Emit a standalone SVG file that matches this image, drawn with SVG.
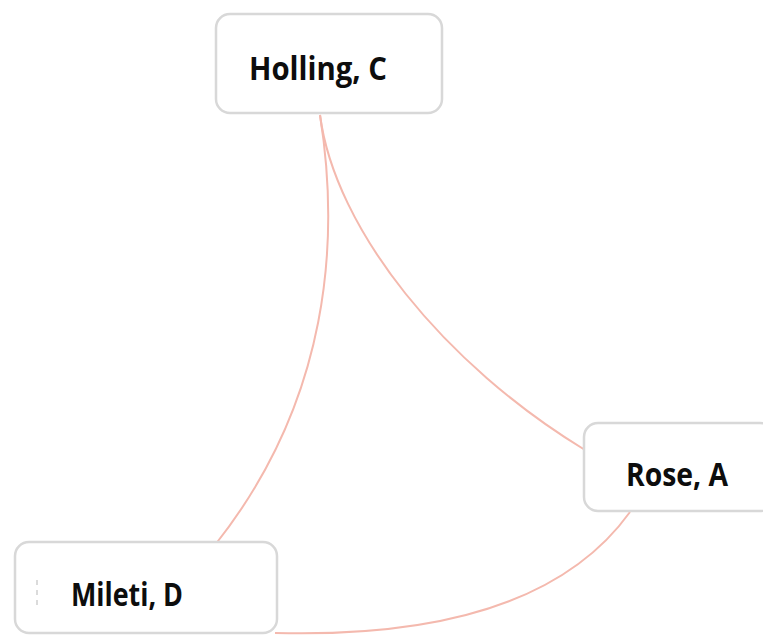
<svg xmlns="http://www.w3.org/2000/svg" width="763" height="635" viewBox="0 0 763 635">
  <style>
    .box { fill: #ffffff; stroke: #d8d8d8; stroke-width: 2.5; }
    .label { font-family: "Open Sans", "Noto Sans", sans-serif; font-weight: 700; font-size: 33px; fill: #0d0d0d; }
    .edge { fill: none; stroke: #f4b9ae; stroke-width: 2; }
  </style>
  <rect width="763" height="635" fill="#ffffff"/>

  <!-- co-author links -->
  <g id="connectors">
    <path class="edge" d="M320,115 C340,240 330,400 215,545"/>
    <path class="edge" d="M320,115 C335,230 445,365 585,450"/>
    <path class="edge" d="M630,512 Q538,640 275,633"/>
  </g>

  <g id="node-holling">
    <rect class="box" x="216" y="14" width="226" height="99" rx="14"/>
    <text class="label" x="249" y="80" textLength="138" lengthAdjust="spacingAndGlyphs">Holling, C</text>
  </g>

  <g id="node-rose">
    <rect class="box" x="584" y="423" width="190" height="88" rx="14"/>
    <text class="label" x="626" y="486" textLength="102" lengthAdjust="spacingAndGlyphs">Rose, A</text>
  </g>

  <g id="node-mileti">
    <rect class="box" x="15" y="542" width="262" height="91" rx="14"/>
    <line x1="37" y1="580" x2="37" y2="610" stroke="#cfcfcf" stroke-width="1.5" stroke-dasharray="5,5"/>
    <text class="label" x="71" y="606" textLength="112" lengthAdjust="spacingAndGlyphs">Mileti, D</text>
  </g>
</svg>
